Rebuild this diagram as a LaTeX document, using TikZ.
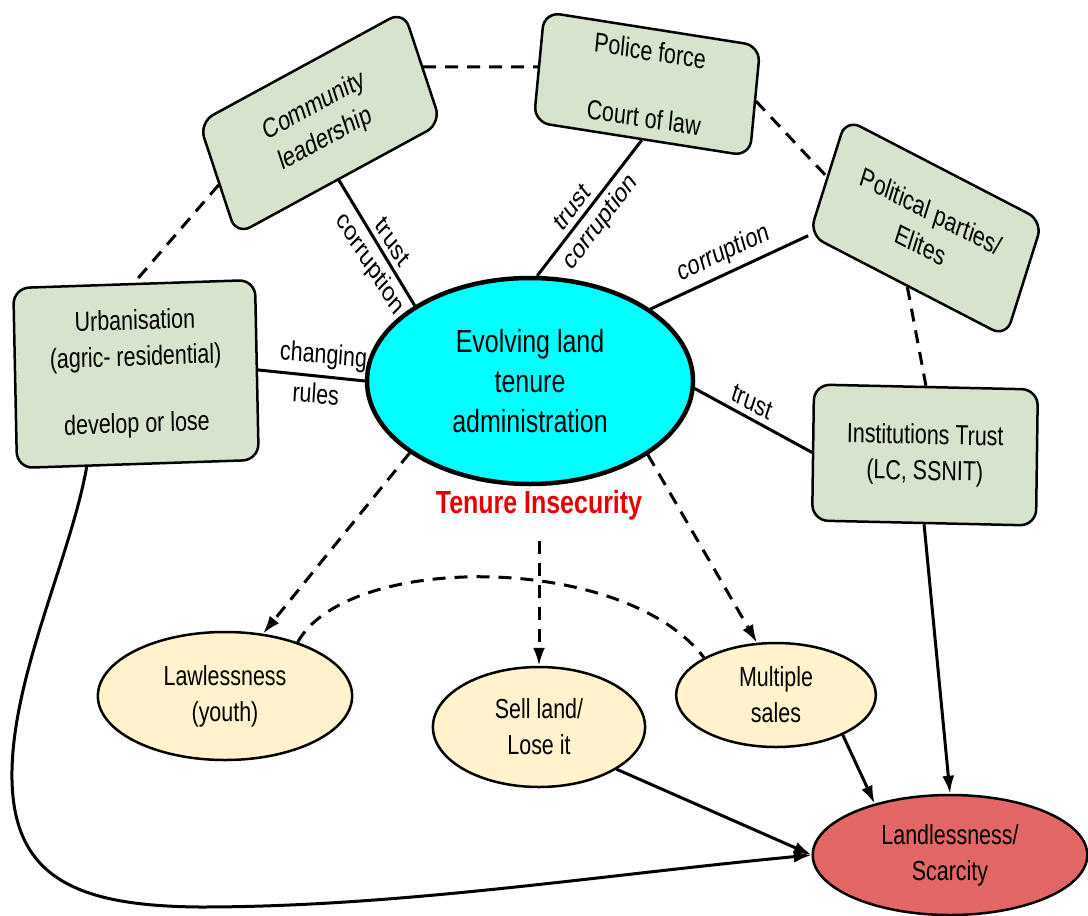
\documentclass[tikz,border=0pt]{standalone}
\usepackage{fontspec}
\setmainfont{Liberation Sans}
\usetikzlibrary{shapes.geometric,arrows.meta,calc}

\definecolor{boxgreen}{RGB}{214,227,205}
\definecolor{evcyan}{RGB}{0,255,255}
\definecolor{oatfill}{RGB}{255,242,204}
\definecolor{scarcered}{RGB}{226,102,102}
\definecolor{insecred}{RGB}{232,0,0}

\newcommand\lblfont{\fontsize{27.5}{36}\selectfont}
\newcommand\corefont{\fontsize{32}{40}\selectfont}

\tikzset{
  greenbox/.style={draw=black, line width=2.5pt, rounded corners=16pt, fill=boxgreen,
    align=center, inner sep=0pt, font=\lblfont},
  ovalnode/.style={ellipse, draw=black, line width=2.5pt, fill=oatfill,
    align=center, inner sep=0pt, font=\lblfont},
  solidlink/.style={line width=3pt},
  dashedlink/.style={line width=3pt, dash pattern=on 13pt off 9pt},
  pointed/.style={-{Latex[length=18pt,width=12pt]}},
  lbl/.style={font=\lblfont, inner sep=6pt},
}

\begin{document}
\begin{tikzpicture}[x=1.282051pt, y=-1pt]
\begin{scope}[xscale=0.78, transform shape]
\path[fill=white] (0,0) rectangle (1088,915);
\useasboundingbox (0,0) rectangle (1088,915);

% central concept
\node[ellipse, draw=black, line width=4.5pt, fill=evcyan, align=center, inner sep=0pt,
      font=\corefont, minimum width=418pt, minimum height=206pt]
      (ev) at (530,381) {Evolving land\\tenure\\administration};
\node[font=\corefont\bfseries, text=insecred, inner sep=3pt] (ti) at (539,505) {Tenure Insecurity};

% surrounding actors
\node[greenbox, rotate=23, minimum width=285pt, minimum height=122pt]
      (cl) at (320,123) {Community\\leadership};
\node[greenbox, rotate=-7, minimum width=279pt, minimum height=111pt]
      (pf) at (647,84) {Police force\\[31pt]Court of law};
\node[greenbox, rotate=-22, minimum width=272pt, minimum height=125pt]
      (pp) at (926,228) {Political parties/\\Elites};
\node[greenbox, rotate=1.5, minimum width=310pt, minimum height=180pt]
      (ur) at (136,374) {Urbanisation\\(agric- residential)\\[31pt]develop or lose};
\node[greenbox, rotate=-1, minimum width=287pt, minimum height=136pt]
      (it) at (925,455) {Institutions Trust\\(LC, SSNIT)};

% outcomes
\node[ovalnode, minimum width=326pt, minimum height=128pt] (la) at (225,696) {Lawlessness\\(youth)};
\node[ovalnode, minimum width=272pt, minimum height=120pt] (sl) at (539,727) {Sell land/\\Lose it};
\node[ovalnode, minimum width=256pt, minimum height=104pt] (ms) at (776,695) {Multiple\\sales};
\node[ovalnode, fill=scarcered, minimum width=352pt, minimum height=120pt] (lc) at (950,855) {Landlessness/\\Scarcity};

% dashed ties between actors
\draw[dashedlink] (cl.east) -- (pf.west);
\draw[dashedlink] (pf.east) -- (pp.west);
\draw[dashedlink] (pp.south) -- (it.north);
\draw[dashedlink] ($(cl.west)!0.1!(cl.south west)$) -- (ur.north);

% labelled links to the central concept
\draw[solidlink] (cl.south) -- (ev.153)
  node[lbl, pos=0.57, above, rotate=-52] {trust}
  node[lbl, pos=0.57, below, rotate=-52] {corruption};
\draw[solidlink] (ev.85) -- (pf.south)
  node[lbl, pos=0.42, above, rotate=45.9] {trust}
  node[lbl, pos=0.5, below, rotate=45.9] {corruption};
\draw[solidlink] (ev.25) -- (pp.south west)
  node[lbl, pos=0.5, above, rotate=20.2] {corruption};
\draw[solidlink] (ev.-2) -- (it.west)
  node[lbl, pos=0.45, above, rotate=-22.6] {trust};
\draw[solidlink] (ur.east) -- (ev.west)
  node[lbl, pos=0.6, above, rotate=-4.5] {changing}
  node[lbl, pos=0.55, below, rotate=-4.5] {rules};

% consequences of tenure insecurity
\draw[dashedlink, pointed] (ev.205) -- (la.52);
\draw[dashedlink, pointed, shorten <=18pt] (ti.south) -- (sl.north);
\draw[dashedlink, pointed] (ev.-26) -- (ms.115);
\draw[dashedlink] (la.30) .. controls +(50,-90) and +(-80,-105) .. (ms.158);

% paths to landlessness
\draw[solidlink, pointed] (sl.-23) -- (lc.west);
\draw[solidlink, pointed] (ms.-25) -- (lc.152);
\draw[solidlink, pointed] (it.south) -- (lc.north);
\draw[solidlink, pointed] ($(ur.south)!0.42!(ur.south west)$)
  .. controls (70,560) and (10,680) .. (12,780)
  .. controls (14,880) and (80,906) .. (200,907)
  .. controls (400,907) and (600,875) .. (lc.west);
\end{scope}
\end{tikzpicture}
\end{document}
